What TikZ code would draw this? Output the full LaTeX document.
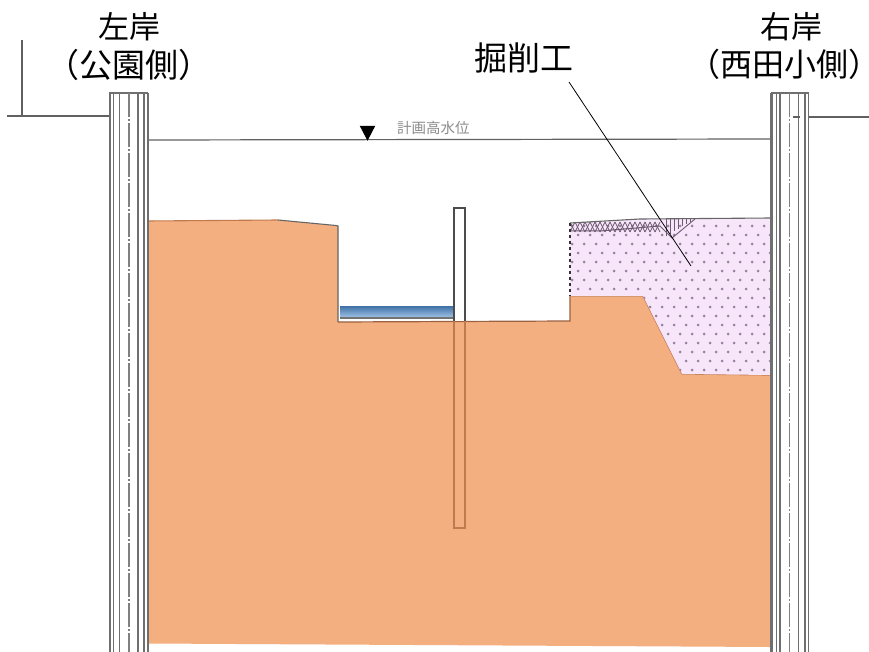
\documentclass[tikz,border=0pt]{standalone}
\usepackage{fontspec}
\setmainfont{Noto Sans CJK JP}
\newfontfamily\haltfont[RawFeature=+halt]{Noto Sans CJK JP}
\usetikzlibrary{shapes.geometric}
\definecolor{soil}{HTML}{F4AF80}
\definecolor{soiledge}{HTML}{C07A50}
\definecolor{pinkfill}{HTML}{F7E6FA}
\definecolor{dotc}{HTML}{9A80A0}
\definecolor{hatchc}{HTML}{6E5A72}
\definecolor{wallc}{HTML}{6F6F6F}
\definecolor{waterdark}{HTML}{3F71A6}
\definecolor{waterlight}{HTML}{A5C6E8}
\tikzset{
  lbl/.style={inner sep=0pt,font=\haltfont\fontsize{33}{36}\selectfont,text=black},
  lblr/.style={inner sep=0pt,font=\haltfont\fontsize{32}{35}\selectfont,text=black},
  lblt/.style={inner sep=0pt,font=\fontsize{31}{34}\selectfont,text=black},
  wl/.style={inner sep=0pt,font=\fontsize{14.5}{16}\selectfont,text=black!45},
  gline/.style={draw=black!62,line width=1.2pt},
  wallline/.style={draw=wallc,line width=1.3pt},
  wallthick/.style={draw=wallc,line width=2.3pt},
  wallcenter/.style={draw=black!50,line width=1.1pt,dash pattern=on 24pt off 2pt on 2pt off 2pt},
  leader/.style={draw=black,line width=.8pt}
}
\newcommand{\pinkshape}{(570,223) -- (640,219) -- (771,218) -- (771,375) -- (682,374) -- (643,296) -- (570,296) -- cycle}
\begin{document}
\begin{tikzpicture}[x=1pt,y=-1pt]
\useasboundingbox (0,0) rectangle (869,652);
\fill[white] (0,0) rectangle (869,652);
% ground and water level lines
\draw[gline,line width=1.5pt] (22,40) -- (22,116);
\draw[gline] (7,116) -- (109,116);
\draw[gline] (793,117) -- (869,117);
\draw[gline] (148,140) -- (771,139);
% soil
\fill[soil] (148,221) -- (278,220) -- (338,226) -- (338,322) -- (570,321) -- (570,296) -- (643,296) -- (682,374) -- (771,375) -- (771,647) -- (148,643.5) -- cycle;
\draw[soiledge,line width=1.1pt] (148,221) -- (278,220);
\draw[black!60,line width=1.1pt] (278,220) -- (336,225.5) -- (338,226) -- (338,322);
\draw[soiledge!80!black,line width=1.2pt] (338,322) -- (570,321) -- (570,296);
\draw[soiledge,line width=1.2pt] (570,296) -- (643,296) -- (682,374) -- (771,375);
% excavation zone
\fill[pinkfill] \pinkshape;
\begin{scope}
\clip \pinkshape;
\foreach \r in {0,...,17}{
  \pgfmathsetmacro{\yy}{226+\r*9}
  \pgfmathsetmacro{\ox}{mod(\r,2)*6}
  \foreach \c in {0,...,17}{
    \fill[dotc] ({572+\ox+\c*12},\yy) circle (1.5pt);
  }
}
\foreach \k in {0,...,17}{
  \draw[hatchc,line width=.8pt] ({570+\k*5},232) -- ({575+\k*5},222);
  \draw[hatchc,line width=.8pt] ({570+\k*5},222) -- ({575+\k*5},232);
}
\foreach \k in {0,...,6}{
  \draw[hatchc,line width=.8pt] ({666+\k*4},219) -- ({666+\k*4},{236-\k*2.4});
}
\end{scope}
\draw[hatchc,line width=1pt] (570,231) -- (600,231) -- (660,226) -- (672,238);
\draw[hatchc,line width=.9pt] (672,238) -- (695,219);
\draw[black!60,line width=1.1pt] (570,223) -- (640,219) -- (771,218);
\draw[black!80,line width=1.3pt,dash pattern=on 3pt off 3pt] (570,223) -- (570,296);
\draw[soiledge,line width=1pt] (771,218) -- (771,375);
% water in channel
\shade[top color=waterdark,bottom color=waterlight] (340,306) rectangle (455,318);
\draw[black!55,line width=1.2pt] (340,318) -- (455,318);
% sheet pile
\fill[white] (454,208) rectangle (465,321);
\draw[black!70,line width=1.1pt] (454,321) -- (454,208) -- (465,208) -- (465,321);
\draw[soiledge,line width=1.1pt] (454,321) -- (454,528) -- (465,528) -- (465,321);
% left wall
\fill[white] (109,93) rectangle (148,652);
\draw[wallline] (109,93) -- (148,93);
\draw[wallthick] (110,93) -- (110,652);
\draw[wallline] (113.5,93) -- (113.5,652);
\draw[wallline] (119.5,93) -- (119.5,652);
\draw[wallcenter] (129,93) -- (129,652);
\draw[wallline] (138,93) -- (138,652);
\draw[wallline] (144,93) -- (144,652);
\draw[wallthick] (148,93) -- (148,652);
% right wall
\fill[white] (771,93) rectangle (809,652);
\draw[wallline] (771,93) -- (809,93);
\draw[wallthick] (771.5,93) -- (771.5,652);
\draw[wallline] (776.5,93) -- (776.5,652);
\draw[wallline] (780,93) -- (780,652);
\draw[wallcenter] (789.5,93) -- (789.5,652);
\draw[wallline] (798.5,93) -- (798.5,652);
\draw[wallthick] (805,93) -- (805,652);
\draw[wallline] (808.5,93) -- (808.5,652);
\draw[gline] (793,117) -- (800,117);
% water level mark
\node[wl,anchor=west] (wlabel) at (397,128) {計画高水位};
\node[draw=none,fill=black,isosceles triangle,isosceles triangle apex angle=55,shape border rotate=-90,minimum height=15pt,minimum width=15pt,inner sep=0pt] (wmark) at (367.5,130.5) {};
% labels
\node[lblt] (lt) at (129,27) {左岸};
\node[lbl] (ls) at (129,64.5) {（公園側）};
\node[lblt] (rt) at (791,27) {右岸};
\node[lblr] (rs) at (784,64.5) {（西田小側）};
\node[lbl] (ex) at (524,58) {掘削工};
\coordinate (extarget) at (691,266);
\coordinate (exstart) at (569,82);
\draw[leader] (exstart) -- (extarget);
\end{tikzpicture}
\end{document}
